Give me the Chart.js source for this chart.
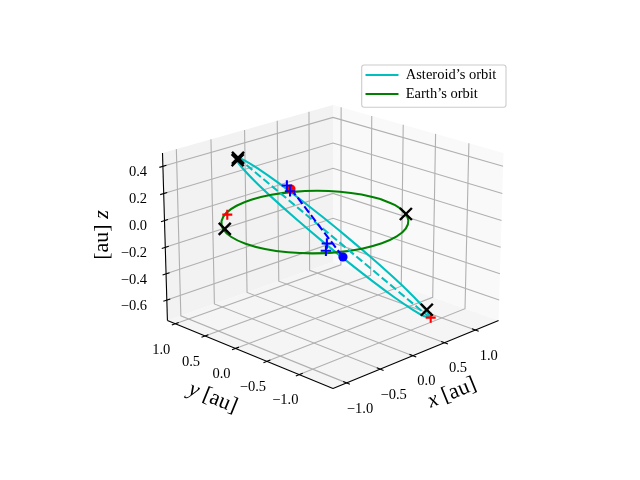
<!DOCTYPE html>
<html><head><meta charset="utf-8">
<style>html,body{margin:0;padding:0;background:#fff}#w{width:640px;height:480px;position:relative}</style>
<script src="https://cdn.jsdelivr.net/npm/chart.js@4"></script></head>
<body><div id="w"><canvas id="c" width="640" height="480"></canvas></div>
<script>
// axis limits and ticks (au)
const xLim=[-1.196,1.388], yLim=[-1.505,1.135], zLim=[-0.757,0.497];
const xTicks=[-1,-0.5,0,0.5,1], yTicks=[-1,-0.5,0,0.5,1], zTicks=[-0.6,-0.4,-0.2,0,0.2,0.4];
const xTickLabels=['\u22121.0','\u22120.5','0.0','0.5','1.0'];
const yTickLabels=['\u22121.0','\u22120.5','0.0','0.5','1.0'];
const zTickLabels=['\u22120.6','\u22120.4','\u22120.2','0.0','0.2','0.4'];
// Asteroid's orbit
const astX=[0.592,0.799,0.954,1.044,1.064,1.014,0.895,0.716,0.490,0.232,-0.040,-0.309,-0.556,-0.763,-0.918,-1.008,-1.028,-0.978,-0.859,-0.680,-0.454,-0.196,0.076,0.345,0.592];
const astY=[-1.184,-0.972,-0.713,-0.424,-0.125,0.163,0.422,0.633,0.781,0.858,0.857,0.778,0.628,0.416,0.157,-0.132,-0.431,-0.719,-0.978,-1.189,-1.337,-1.414,-1.413,-1.334,-1.184];
const astZ=[-0.640,-0.685,-0.691,-0.655,-0.582,-0.477,-0.345,-0.197,-0.042,0.109,0.245,0.359,0.440,0.485,0.491,0.455,0.382,0.277,0.145,-0.003,-0.158,-0.309,-0.445,-0.559,-0.640];
// Earth's orbit
const earthX=[1.027,0.992,0.889,0.726,0.514,0.266,0,-0.266,-0.514,-0.726,-0.889,-0.992,-1.027,-0.992,-0.889,-0.726,-0.514,-0.266,0,0.266,0.514,0.726,0.889,0.992,1.027];
const earthY=[0,0.266,0.514,0.726,0.889,0.992,1.027,0.992,0.889,0.726,0.514,0.266,0,-0.266,-0.514,-0.726,-0.889,-0.992,-1.027,-0.992,-0.889,-0.726,-0.514,-0.266,0];
const earthZ=[-0.015,-0.015,-0.015,-0.015,-0.015,-0.015,-0.015,-0.015,-0.015,-0.015,-0.015,-0.015,-0.015,-0.015,-0.015,-0.015,-0.015,-0.015,-0.015,-0.015,-0.015,-0.015,-0.015,-0.015,-0.015];
// lines and markers [x,y,z]
const apsides=[[-0.556,0.628,0.440],[0.592,-1.184,-0.640]];
const nodes=[[0.517,0.933,0],[-0.627,-1.073,0]];
const redDot=[[0.517,0.933,0]];
const blueDot=[[-0.627,-1.073,0]];
const redPlus=[[-0.54,0.84,-0.015],[0.605,-1.197,-0.645]];
const bluePlus=[[0.46,0.94,0.035],[0.49,0.92,-0.012],[-0.46,-0.66,0],[-0.62,-0.81,0]];
const blackX=[[-0.556,0.628,0.440],[-0.56,0.63,0.425],[-0.87,0.51,-0.015],[0.861,-0.559,-0.015],[0.574,-1.166,-0.585]];

const elev=20*Math.PI/180, azim=-135*Math.PI/180, dist=10, boxA=0.5714, boxC=0.4286, cx=333, cy=238, S=2079;
const wv=[Math.cos(elev)*Math.cos(azim),Math.cos(elev)*Math.sin(azim),Math.sin(elev)];
const ul=Math.hypot(wv[0],wv[1]); const uv=[-wv[1]/ul,wv[0]/ul,0];
const vv=[wv[1]*uv[2]-wv[2]*uv[1],wv[2]*uv[0]-wv[0]*uv[2],wv[0]*uv[1]-wv[1]*uv[0]];
function P(x,y,z){
  const d=[2*boxA*(x-(xLim[0]+xLim[1])/2)/(xLim[1]-xLim[0]),
           2*boxA*(y-(yLim[0]+yLim[1])/2)/(yLim[1]-yLim[0]),
           2*boxC*(z-(zLim[0]+zLim[1])/2)/(zLim[1]-zLim[0])];
  const D=dist-(wv[0]*d[0]+wv[1]*d[1]+wv[2]*d[2]);
  return {x:cx+S*(uv[0]*d[0]+uv[1]*d[1]+uv[2]*d[2])/D, y:cy-S*(vv[0]*d[0]+vv[1]*d[1]+vv[2]*d[2])/D};
}
const [x0,x1]=xLim,[y0,y1]=yLim,[z0,z1]=zLim;
const ds=[];
function line(pts,color,w,extra){ds.push(Object.assign({data:pts.map(p=>P(p[0],p[1],p[2])),showLine:true,borderColor:color,backgroundColor:color,borderWidth:w,pointRadius:0,tension:0,fill:false},extra||{}));}
function pane(pts,color){line(pts,'rgba(0,0,0,0)',0,{fill:'shape',backgroundColor:color});}
function marks(pts,style,r,color,w){ds.push({data:pts.map(p=>P(p[0],p[1],p[2])),showLine:false,pointStyle:style,pointRadius:r,pointBorderColor:color,pointBackgroundColor:color,pointBorderWidth:w,borderColor:color,backgroundColor:color});}
// panes
pane([[x0,y1,z0],[x1,y1,z0],[x1,y1,z1],[x0,y1,z1]],'#f2f2f2');
pane([[x1,y0,z0],[x1,y1,z0],[x1,y1,z1],[x1,y0,z1]],'#f9f9f9');
pane([[x0,y0,z0],[x1,y0,z0],[x1,y1,z0],[x0,y1,z0]],'#f5f5f5');
// grid
const grid='#b0b0b0';
xTicks.forEach(t=>line([[t,y0,z0],[t,y1,z0],[t,y1,z1]],grid,1.1));
yTicks.forEach(t=>line([[x0,t,z0],[x1,t,z0],[x1,t,z1]],grid,1.1));
zTicks.forEach(t=>line([[x0,y1,t],[x1,y1,t],[x1,y0,t]],grid,1.1));
// axis edges
line([[x0,y0,z0],[x1,y0,z0]],'#000',1.1);
line([[x0,y0,z0],[x0,y1,z0]],'#000',1.1);
line([[x0,y1,z0],[x0,y1,z1]],'#000',1.1);
xTicks.forEach(t=>line([[t,y0+0.05,z0],[t,y0-0.05,z0]],'#000',1.1));
yTicks.forEach(t=>line([[x0+0.05,t,z0],[x0-0.05,t,z0]],'#000',1.1));
zTicks.forEach(t=>line([[x0+0.05,y1,t],[x0-0.05,y1,t]],'#000',1.1));
// orbits (labelled for the legend)
const tri=(a,b,c)=>a.map((v,i)=>[v,b[i],c[i]]);
line(tri(astX,astY,astZ),'#00bfbf',2.08,{label:'Asteroid\u2019s orbit',tension:0.4});
line(tri(earthX,earthY,earthZ),'#008000',2.08,{label:'Earth\u2019s orbit',tension:0.4});
line(apsides,'#00bfbf',2.08,{borderDash:[7.7,3.3]});
line(nodes,'#0000ff',2.08,{borderDash:[7.7,3.3]});
marks(redDot,'circle',4.6,'#ff0000',0);
marks(blueDot,'circle',4.6,'#0000ff',0);
marks(redPlus,'cross',5,'#ff0000',2.08);
marks(bluePlus,'cross',5.2,'#0000ff',2.08);
marks(blackX,'crossRot',8.5,'#000000',2.4);
ds.forEach((d,i)=>{d.order=ds.length-i;d.clip=false;});

const serif='"Liberation Serif"';
function label(ctx,cx,cy,rot,parts,size){
  ctx.save();ctx.translate(cx,cy);ctx.rotate(rot*Math.PI/180);
  ctx.textBaseline='middle';ctx.textAlign='left';ctx.fillStyle='#000';
  let w=0;parts.forEach(p=>{ctx.font=(p[1]?'italic ':'')+size+'px '+serif;w+=ctx.measureText(p[0]).width;});
  let xx=-w/2;parts.forEach(p=>{ctx.font=(p[1]?'italic ':'')+size+'px '+serif;ctx.fillText(p[0],xx,0);xx+=ctx.measureText(p[0]).width;});
  ctx.restore();
}
const deco={id:'deco',
  afterLayout(chart){
    const l=chart.legend;
    l.left=361;l.top=63.3;l.right=506;l.bottom=125;l.width=145;l.height=61.7;
    l.adjustHitBoxes();
  },
  beforeDraw(chart){
    const ctx=chart.ctx;ctx.save();
    ctx.beginPath();ctx.roundRect(361.7,65,144.3,42.3,2.5);
    ctx.fillStyle='rgba(255,255,255,0.8)';ctx.fill();ctx.strokeStyle='#cccccc';ctx.lineWidth=1.1;ctx.stroke();
    ctx.restore();
  },
  afterDatasetsDraw(chart){
    const ctx=chart.ctx;ctx.save();
    ctx.font='14.5px '+serif;ctx.fillStyle='#000';ctx.textBaseline='middle';ctx.textAlign='center';
    xTicks.forEach((t,i)=>{const p=P(t,y0,z0);ctx.fillText(xTickLabels[i],p.x+13.5,p.y+26);});
    yTicks.forEach((t,i)=>{const p=P(x0,t,z0);ctx.fillText(yTickLabels[i],p.x-14,p.y+26);});
    ctx.textAlign='right';
    zTicks.forEach((t,i)=>{const p=P(x0,y1,t);ctx.fillText(zTickLabels[i],147,p.y+6);});
    ctx.restore();
    label(ctx,452,393,-22,[['x',true],[' [au]',false]],22);
    label(ctx,213,398,22,[['y',true],[' [au]',false]],22);
    label(ctx,102,235,-90,[['[au] ',false],['z',true]],22);
  }
};
new Chart(document.getElementById('c'),{
  type:'scatter',
  data:{datasets:ds},
  plugins:[deco],
  options:{responsive:false,animation:false,events:[],
    layout:{autoPadding:false,padding:0},
    scales:{x:{type:'linear',display:false,min:0,max:640},y:{type:'linear',display:false,min:0,max:480,reverse:true}},
    plugins:{tooltip:{enabled:false},title:{display:false},
      legend:{position:'chartArea',align:'start',labels:{filter:i=>!!i.text,sort:(a,b)=>a.datasetIndex-b.datasetIndex,boxWidth:33,boxHeight:0,padding:4.5,color:'#000',font:{family:serif,size:14.5,lineHeight:1}}}}
  }
});
</script></body></html>
